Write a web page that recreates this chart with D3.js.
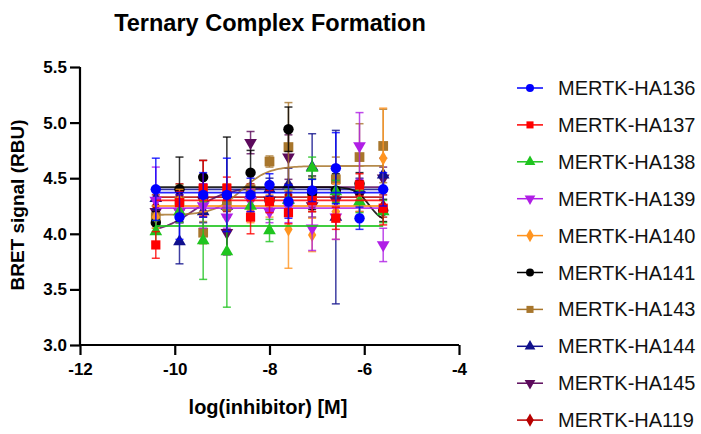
<!DOCTYPE html>
<html><head><meta charset="utf-8">
<script src="https://cdn.jsdelivr.net/npm/d3@7"></script>
<style>body{margin:0;background:#fff;} text{font-family:"Liberation Sans",Arial,sans-serif;}</style>
</head><body><svg id="c" width="701" height="434"></svg>
<script>
const seriesNames = ["MERTK-HA136","MERTK-HA137","MERTK-HA138","MERTK-HA139","MERTK-HA140","MERTK-HA141","MERTK-HA143","MERTK-HA144","MERTK-HA145","MERTK-HA119"];
const logConc = [-10.4,-9.9,-9.4,-8.9,-8.4,-8.0,-7.6,-7.1,-6.6,-6.1,-5.6];
const means = [
  [4.40,4.15,4.35,4.35,4.35,4.44,4.29,4.39,4.59,4.14,4.40],
  [3.90,4.28,4.41,4.41,4.15,4.29,4.19,4.30,4.14,4.44,4.23],
  [4.02,4.20,3.94,3.84,4.25,4.03,4.30,4.59,4.38,4.29,4.20],
  [4.30,4.20,4.25,4.15,4.30,4.20,4.25,4.05,4.15,4.79,3.90],
  [4.15,4.30,4.30,4.35,4.20,4.25,4.04,3.99,4.20,4.30,4.68],
  [4.10,4.40,4.51,4.35,4.55,4.30,4.94,4.37,4.39,4.45,4.21],
  [4.15,4.29,4.01,4.25,4.40,4.65,4.78,4.35,4.49,4.69,4.79],
  [4.32,3.93,4.20,4.25,4.35,4.40,4.44,4.60,4.15,4.40,4.53],
  [4.20,4.20,4.30,4.01,4.82,4.30,4.69,4.25,4.30,4.35,4.50],
  [4.25,4.35,4.40,4.30,4.35,4.30,4.35,4.30,4.35,4.30,4.25]
];
const errs = [
  [0.28,0.20,0.20,0.33,0.15,0.10,0.15,0.10,0.32,0.10,0.15],
  [0.12,0.10,0.25,0.10,0.15,0.10,0.10,0.10,0.10,0.10,0.15],
  [0.10,0.10,0.35,0.50,0.10,0.10,0.10,0.10,0.10,0.10,0.10],
  [0.30,0.10,0.20,0.10,0.10,0.10,0.15,0.20,0.20,0.30,0.15],
  [0.10,0.10,0.10,0.10,0.10,0.10,0.35,0.15,0.25,0.10,0.45],
  [0.10,0.29,0.15,0.52,0.20,0.10,0.20,0.15,0.15,0.10,0.10],
  [0.10,0.15,0.10,0.10,0.15,0.05,0.40,0.15,0.20,0.30,0.33],
  [0.10,0.20,0.10,0.10,0.20,0.10,0.15,0.30,0.78,0.10,0.15],
  [0.10,0.10,0.15,0.20,0.10,0.10,0.20,0.10,0.10,0.10,0.10],
  [0.10,0.10,0.10,0.10,0.10,0.10,0.10,0.10,0.10,0.10,0.10]
];
const fitBottom = [4.37,4.30,4.07,4.23,4.25,4.42,4.17,4.40,4.00,4.33];
const fitTop    = [4.37,4.30,4.07,4.23,4.25,4.10,4.61,4.40,4.42,4.33];
const fitEC50   = [-8,-8,-8,-8,-8,-5.9,-8.6,-8,-9.6,-8];
const fitHill   = [1,1,1,1,1,3,1.5,1,1.2,1];
const colors = ["#0000ff","#ff0000","#1fc41f","#b01ee6","#ff9420","#000000","#a8762c","#10108c","#5c0a5c","#b80000"];
const shapes = [d3.symbolCircle,d3.symbolSquare,d3.symbolTriangle,"down",d3.symbolDiamond,d3.symbolCircle,d3.symbolSquare,d3.symbolTriangle,"down",d3.symbolDiamond];
const xTicks = [-12,-10,-8,-6,-4];
const yTicks = [3.0,3.5,4.0,4.5,5.0,5.5];

const svg = d3.select("#c");
const x = d3.scaleLinear().domain([-12,-4]).range([80,459]);
const y = d3.scaleLinear().domain([3,5.5]).range([345,67]);

svg.append("text").attr("x",270).attr("y",31).attr("text-anchor","middle")
  .attr("font-size",23.5).attr("font-weight","bold").text("Ternary Complex Formation");

function sym(i, size){
  const s = shapes[i];
  if (s === "down") return {path:d3.symbol(d3.symbolTriangle, size)(), rot:180};
  return {path:d3.symbol(s, size)(), rot:0};
}
const sizes = [85,85,70,70,60,85,95,70,70,60];

const plot = svg.append("g");
for (let i = seriesNames.length-1; i >= 0; i--) {
  const g = plot.append("g");
  const c = colors[i];
  const pts = d3.range(0,101).map(k => {
    const lx = logConc[0] + (logConc[logConc.length-1]-logConc[0])*k/100;
    const v = fitBottom[i] + (fitTop[i]-fitBottom[i])/(1+Math.pow(10,(fitEC50[i]-lx)*fitHill[i]));
    return [lx,v];
  });
  g.append("path").attr("d", d3.line().x(d=>x(d[0])).y(d=>y(d[1]))(pts))
    .attr("fill","none").attr("stroke",c).attr("stroke-width",1.8).attr("opacity",0.85);
  logConc.forEach((lx,j) => {
    const m = means[i][j], e = errs[i][j];
    const cx = x(lx);
    g.append("line").attr("x1",cx).attr("x2",cx).attr("y1",y(m-e)).attr("y2",y(m+e))
      .attr("stroke",c).attr("stroke-width",1.5).attr("opacity",0.8);
    [m-e,m+e].forEach(v => g.append("line").attr("x1",cx-4).attr("x2",cx+4).attr("y1",y(v)).attr("y2",y(v))
      .attr("stroke",c).attr("stroke-width",1.5).attr("opacity",0.8));
  });
  logConc.forEach((lx,j) => {
    const s = sym(i, sizes[i]);
    g.append("path").attr("d", s.path)
      .attr("transform",`translate(${x(lx)},${y(means[i][j])}) rotate(${s.rot})`)
      .attr("fill",c);
  });
}

const xa = svg.append("g").attr("transform","translate(0,345)")
  .call(d3.axisBottom(x).tickValues(xTicks).tickFormat(d => String(d)).tickSize(10).tickPadding(8));
const ya = svg.append("g").attr("transform","translate(80,0)")
  .call(d3.axisLeft(y).tickValues(yTicks).tickFormat(d3.format(".1f")).tickSize(10).tickPadding(3));
[xa,ya].forEach(a => {
  a.select(".domain").attr("stroke","#000").attr("stroke-width",2.2);
  a.selectAll(".tick line").attr("stroke","#000").attr("stroke-width",2.2);
  a.selectAll(".tick text").attr("fill","#000").attr("font-size",17).attr("font-weight","bold")
    .attr("font-family","'Liberation Sans',Arial,sans-serif");
});
xa.select(".domain").attr("d","M80,0H459");
ya.select(".domain").attr("d","M0,67V345");

svg.append("text").attr("x",268).attr("y",414).attr("text-anchor","middle")
  .attr("font-size",20).attr("font-weight","bold").text("log(inhibitor) [M]");
svg.append("text").attr("transform","translate(24,205) rotate(-90)").attr("text-anchor","middle")
  .attr("font-size",19).attr("font-weight","bold").text("BRET signal (RBU)");

const lg = svg.append("g");
seriesNames.forEach((n,i) => {
  const yy = 88 + i*36.9;
  lg.append("line").attr("x1",517).attr("x2",543).attr("y1",yy).attr("y2",yy).attr("stroke",colors[i]).attr("stroke-width",1.5);
  const s = sym(i, 50);
  lg.append("path").attr("d",s.path).attr("transform",`translate(530,${yy}) rotate(${s.rot})`).attr("fill",colors[i]);
  lg.append("text").attr("x",558).attr("y",yy+7).attr("font-size",20).attr("fill","#111").text(n);
});
</script></body></html>
